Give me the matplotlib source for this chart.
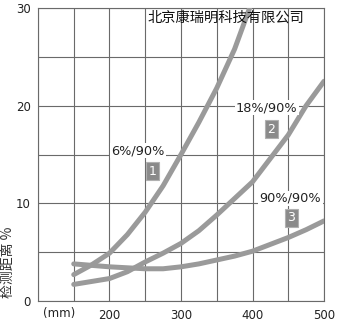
import matplotlib
matplotlib.use("Agg")
import matplotlib.pyplot as plt

plt.rcParams['font.family'] = ['DejaVu Sans']
cjk = ['Noto Sans CJK SC', 'DejaVu Sans']

# detection distance (mm) vs. percentage, three reflectance cases
x1 = [150, 175, 200, 225, 250, 275, 300, 325, 350, 375, 396]
y1 = [2.7, 3.7, 4.9, 6.8, 9.1, 11.8, 15.0, 18.3, 21.8, 25.8, 30.0]

x2 = [150, 175, 200, 225, 250, 275, 300, 325, 350, 375, 400, 425, 450, 475, 500]
y2 = [1.7, 2.0, 2.3, 3.0, 4.0, 4.9, 5.9, 7.2, 8.8, 10.5, 12.2, 14.6, 17.0, 20.0, 22.5]

x3 = [150, 175, 200, 225, 250, 275, 300, 325, 350, 375, 400, 425, 450, 475, 500]
y3 = [3.8, 3.65, 3.5, 3.4, 3.3, 3.3, 3.5, 3.8, 4.2, 4.6, 5.1, 5.8, 6.5, 7.3, 8.2]

labels = ["6%/90%", "18%/90%", "90%/90%"]
label_pos = [(240, 15.4), (420, 19.8), (453, 10.5)]
badge_pos = [(260, 13.3), (426, 17.6), (454, 8.5)]

xticks = [200, 300, 400, 500]
yticks = [0, 10, 20, 30]

fig = plt.figure(figsize=(3.38, 3.23), dpi=100)
ax = fig.add_axes([0.1124, 0.0681, 0.8462, 0.9071])

grid_c = '#6a6a6a'
for x, y in [(x1, y1), (x2, y2), (x3, y3)]:
    ax.plot(x, y, color='#9a9a9a', lw=3.6, solid_capstyle='round', zorder=3)

ax.set_xlim(100, 500)
ax.set_ylim(0, 30)
ax.set_xticks(xticks)
ax.set_xticks(range(100, 501, 50), minor=True)
ax.set_yticks(yticks)
ax.set_yticks(range(0, 31, 5), minor=True)
ax.grid(True, which='both', color=grid_c, lw=0.8)
ax.set_axisbelow(True)
ax.tick_params(which='both', length=0, labelsize=8.5, colors='#222222')
ax.tick_params(axis='x', pad=6)
ax.tick_params(axis='y', pad=5)
for s in ax.spines.values():
    s.set_color(grid_c)
    s.set_linewidth(0.8)

for (tx, ty), t in zip(label_pos, labels):
    ax.text(tx, ty, t, fontsize=9.3, ha='center', va='center', color='#222222',
            bbox=dict(boxstyle='square,pad=0.1', fc='white', ec='none'), zorder=4)

for i, (bx, by) in enumerate(badge_pos):
    ax.text(bx, by, str(i + 1), fontsize=9, ha='center', va='center', color='white',
            bbox=dict(boxstyle='square,pad=0.2', fc='#8a8a8a', ec='#b0b0b0', lw=0.8),
            zorder=5)

ax.text(363, 29.0, "北京康瑞明科技有限公司", family=cjk, fontsize=10.3,
        ha='center', va='center', color='#111111', zorder=4)

ax.text(129, -0.044, "(mm)", transform=ax.get_xaxis_transform(), fontsize=8.5,
        ha='center', va='center', color='#222222')

fig.text(8 / 338, 1 - 262 / 323, "检测距离 %", family=cjk, fontsize=10,
         rotation=90, ha='center', va='center', color='#333333')

fig.savefig("out.png", dpi=100)
